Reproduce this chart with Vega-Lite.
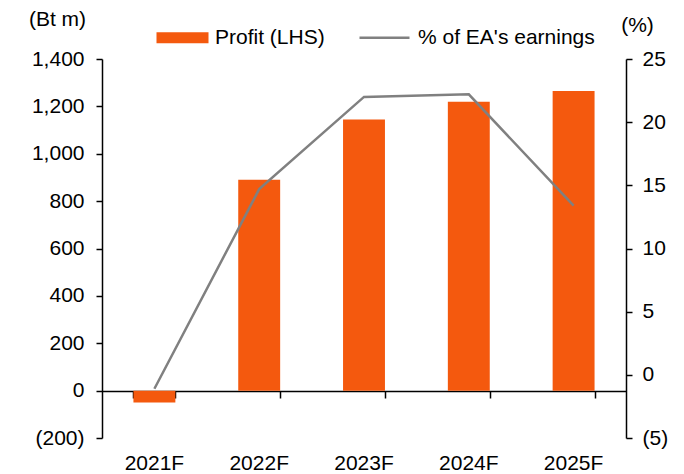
{
  "$schema": "https://vega.github.io/schema/vega-lite/v6.json",
  "autosize": "none",
  "width": 524,
  "height": 379,
  "padding": {"left": 102, "top": 59, "right": 58, "bottom": 36},
  "background": "white",
  "config": {
    "view": {"stroke": null},
    "font": "Liberation Sans",
    "axis": {
      "labelFont": "Liberation Sans",
      "labelFontSize": 21,
      "labelColor": "black",
      "titleFont": "Liberation Sans",
      "titleFontSize": 21,
      "titleFontWeight": "normal",
      "titleColor": "black",
      "domainColor": "black",
      "tickColor": "black",
      "domainWidth": 1.5,
      "tickWidth": 1.5,
      "grid": false
    }
  },
  "data": {
    "values": [
      {"year": "2021F", "profit": -50, "pct": -1.1},
      {"year": "2022F", "profit": 890, "pct": 14.7},
      {"year": "2023F", "profit": 1145, "pct": 22.0},
      {"year": "2024F", "profit": 1220, "pct": 22.2},
      {"year": "2025F", "profit": 1265, "pct": 13.4}
    ]
  },
  "layer": [
    {
      "mark": {"type": "bar", "color": "#F4590E"},
      "encoding": {
        "x": {
          "field": "year",
          "type": "nominal",
          "sort": null,
          "scale": {"paddingInner": 0.6, "paddingOuter": 0.3},
          "axis": {
            "orient": "bottom",
            "offset": -47,
            "title": null,
            "labels": false,
            "domain": true,
            "ticks": true,
            "tickBand": "extent",
            "tickSize": 7
          }
        },
        "y": {
          "field": "profit",
          "type": "quantitative",
          "scale": {"domain": [-200, 1400], "nice": false, "zero": false},
          "axis": {
            "orient": "left",
            "values": [-200, 0, 200, 400, 600, 800, 1000, 1200, 1400],
            "labelExpr": "datum.value < 0 ? '(' + format(-datum.value, ',') + ')' : format(datum.value, ',') + '\u00a0'",
            "tickSize": 6,
            "labelPadding": 12,
            "title": "(Bt m)",
            "titleAngle": 0,
            "titleAlign": "center",
            "titleBaseline": "middle",
            "titleX": -45,
            "titleY": -40
          }
        },
        "color": {
          "datum": "Profit (LHS)",
          "scale": {"domain": ["Profit (LHS)", "% of EA's earnings"], "range": ["#F4590E", "#808080"]},
          "legend": {
            "orient": "none",
            "legendX": 55,
            "legendY": -32,
            "direction": "horizontal",
            "title": null,
            "labelFont": "Liberation Sans",
            "labelFontSize": 21,
            "labelColor": "black",
            "labelLimit": 0,
            "symbolSize": 2704,
            "columnPadding": 29,
            "labelOffset": 37,
            "encode": {
              "symbols": {
                "update": {
                  "shape": {"signal": "datum.value === 'Profit (LHS)' ? 'M-0.423,-0.21H1.577V0.21H-0.423Z' : 'M-0.423,0H1.5'"},
                  "fill": {"signal": "datum.value === 'Profit (LHS)' ? '#F4590E' : 'transparent'"},
                  "stroke": {"signal": "datum.value === 'Profit (LHS)' ? '#F4590E' : '#808080'"},
                  "strokeWidth": {"signal": "datum.value === 'Profit (LHS)' ? 0 : 2.5"}
                }
              }
            }
          }
        }
      }
    },
    {
      "mark": {"type": "line", "strokeWidth": 2.5, "color": "#808080"},
      "encoding": {
        "x": {
          "field": "year",
          "type": "nominal",
          "sort": null,
          "axis": {
            "orient": "bottom",
            "title": null,
            "domain": false,
            "ticks": false,
            "labelAngle": 0,
            "labelPadding": 14
          }
        },
        "y": {
          "field": "pct",
          "type": "quantitative",
          "scale": {"domain": [-5, 25], "nice": false, "zero": false},
          "axis": {
            "orient": "right",
            "values": [-5, 0, 5, 10, 15, 20, 25],
            "labelExpr": "datum.value < 0 ? '(' + format(-datum.value, ',') + ')' : format(datum.value, ',')",
            "tickSize": 6,
            "labelPadding": 10,
            "title": "(%)",
            "titleAngle": 0,
            "titleAlign": "center",
            "titleBaseline": "middle",
            "titleX": 11,
            "titleY": -34
          }
        },
        "color": {"datum": "% of EA's earnings"}
      }
    }
  ],
  "resolve": {"scale": {"y": "independent"}, "axis": {"x": "independent"}}
}
